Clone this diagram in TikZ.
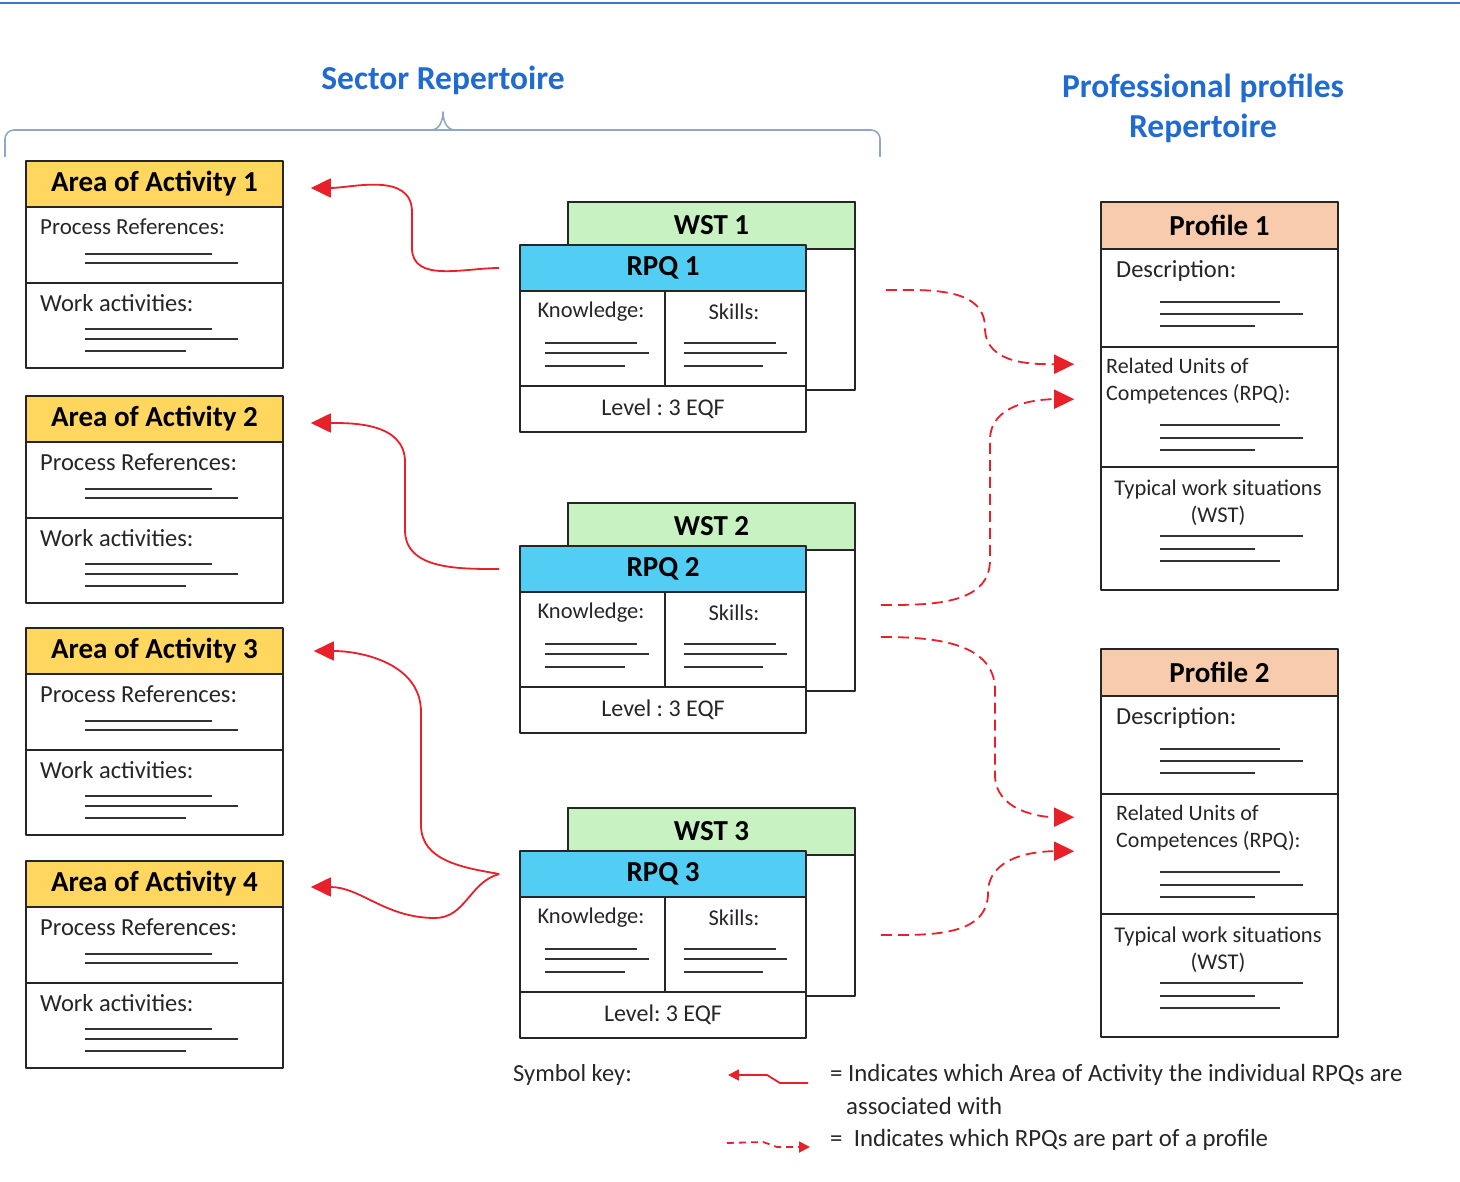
\documentclass[tikz,border=0pt]{standalone}
\usepackage{fontspec}
\setmainfont{Carlito}
\usepackage{tikz}
\usetikzlibrary{calc}
\usetikzlibrary{arrows.meta}

\definecolor{areayellow}{HTML}{FFD75F}
\definecolor{wstgreen}{HTML}{C9F2C2}
\definecolor{rpqblue}{HTML}{52CDF3}
\definecolor{profpeach}{HTML}{F8CBAD}
\definecolor{titleblue}{HTML}{1F6BD0}
\definecolor{bracegray}{HTML}{8FA8C8}
\definecolor{rulecol}{HTML}{4472C4}
\definecolor{linkred}{HTML}{E8202A}
\definecolor{textgray}{HTML}{262626}

\begin{document}
\frenchspacing
\begin{tikzpicture}[x=1pt, y=-1pt, line join=round,
        box/.style={draw=black!85, line width=1.6pt, inner sep=0pt},
        areahead/.style={box, fill=areayellow, minimum width=257pt, minimum height=46pt, font=\fontsize{29}{32}\selectfont\bfseries},
        areacell/.style={box, fill=white, minimum width=257pt},
        wstback/.style={box, fill=white, minimum width=287pt, minimum height=188pt},
        wsthead/.style={box, fill=wstgreen, minimum width=287pt, minimum height=47pt, font=\fontsize{29}{32}\selectfont\bfseries},
        rpqhead/.style={box, fill=rpqblue, minimum width=286pt, minimum height=46pt, font=\fontsize{29}{32}\selectfont\bfseries},
        rpqcell/.style={box, fill=white, minimum height=95pt},
        levelcell/.style={box, fill=white, minimum width=286pt, minimum height=46pt, font=\fontsize{24}{28}\selectfont, text=textgray},
        profhead/.style={box, fill=profpeach, minimum width=237pt, minimum height=47pt, font=\fontsize{29}{32}\selectfont\bfseries},
        profcell/.style={box, fill=white, minimum width=237pt},
        celltext/.style={anchor=west, inner sep=0pt, text=textgray, font=\fontsize{24.5}{28}\selectfont},
        smalltext/.style={inner sep=0pt, text=textgray, font=\fontsize{22.5}{27}\selectfont},
        title/.style={inner sep=0pt, text=titleblue, font=\fontsize{33.5}{40}\selectfont\bfseries},
        fillline/.style={line width=1.6pt, black!80},
        assoc/.style={linkred, line width=1.8pt, -{Triangle[length=20pt,width=19pt]}},
        partof/.style={assoc, dash pattern=on 11pt off 6pt}
    ]
        \useasboundingbox (0,0) rectangle (1460,1182);
        \draw[rulecol, line width=2pt] (0,3) -- (1460,3);

        % headings
        \node (sector) at (443,80) [title] {Sector Repertoire};
        \node (profiles) at (1203,108) [title, align=center] {Professional profiles\\Repertoire};
        \draw[bracegray, line width=1.6pt, rounded corners=9pt] (5,157) -- (5,130) -- (880,130) -- (880,157);
        \draw[bracegray, line width=1.6pt] (431,130) to[out=0,in=-90] (443,112) to[out=-90,in=180] (455,130);

        % areas of activity
        \node (aoa1p) at (154.5,245) [areacell, minimum height=76pt] {};
        \node (aoa1w) at (154.5,325.5) [areacell, minimum height=85pt] {};
        \node (aoa1) at (154.5,184) [areahead] {Area of Activity 1};
        \node (aoa1pt) at (40,227) [celltext, font=\fontsize{23}{28}\selectfont] {Process References:};
        \node (aoa1wt) at (40,303) [celltext] {Work activities:};
        \draw[fillline] (85,254) -- (212,254) (85,263) -- (238,263) (85,329) -- (212,329) (85,339) -- (238,339) (85,351) -- (186,351);

        \node (aoa2p) at (154.5,480) [areacell, minimum height=76pt] {};
        \node (aoa2w) at (154.5,560.5) [areacell, minimum height=85pt] {};
        \node (aoa2) at (154.5,419) [areahead] {Area of Activity 2};
        \node (aoa2pt) at (40,462) [celltext] {Process References:};
        \node (aoa2wt) at (40,538) [celltext] {Work activities:};
        \draw[fillline] (85,489) -- (212,489) (85,498) -- (238,498) (85,564) -- (212,564) (85,574) -- (238,574) (85,586) -- (186,586);

        \node (aoa3p) at (154.5,712) [areacell, minimum height=76pt] {};
        \node (aoa3w) at (154.5,792.5) [areacell, minimum height=85pt] {};
        \node (aoa3) at (154.5,651) [areahead] {Area of Activity 3};
        \node (aoa3pt) at (40,694) [celltext] {Process References:};
        \node (aoa3wt) at (40,770) [celltext] {Work activities:};
        \draw[fillline] (85,721) -- (212,721) (85,730) -- (238,730) (85,796) -- (212,796) (85,806) -- (238,806) (85,818) -- (186,818);

        \node (aoa4p) at (154.5,945) [areacell, minimum height=76pt] {};
        \node (aoa4w) at (154.5,1025.5) [areacell, minimum height=85pt] {};
        \node (aoa4) at (154.5,884) [areahead] {Area of Activity 4};
        \node (aoa4pt) at (40,927) [celltext] {Process References:};
        \node (aoa4wt) at (40,1003) [celltext] {Work activities:};
        \draw[fillline] (85,954) -- (212,954) (85,963) -- (238,963) (85,1029) -- (212,1029) (85,1039) -- (238,1039) (85,1051) -- (186,1051);

        % RPQ 1 with WST 1
        \node (wst1) at (711.5,296) [wstback] {};
        \node (wst1h) at (711.5,225.5) [wsthead] {WST 1};
        \node (rpq1k) at (592.5,338.5) [rpqcell, minimum width=145pt] {};
        \node (rpq1s) at (735.5,338.5) [rpqcell, minimum width=141pt] {};
        \node (rpq1l) at (663,409) [levelcell] {Level : 3 EQF};
        \node (rpq1) at (663,268) [rpqhead] {RPQ 1};
        \node (rpq1kt) at (591,312) [smalltext] {Knowledge:};
        \node (rpq1st) at (734,312) [smalltext] {Skills:};
        \draw[fillline] (545,343) -- (637,343) (545,353) -- (649,353) (545,366) -- (625,366) (684,343) -- (776,343) (684,353) -- (787,353) (684,366) -- (763,366);

        % RPQ 2 with WST 2
        \node (wst2) at (711.5,597) [wstback] {};
        \node (wst2h) at (711.5,526.5) [wsthead] {WST 2};
        \node (rpq2k) at (592.5,639.5) [rpqcell, minimum width=145pt] {};
        \node (rpq2s) at (735.5,639.5) [rpqcell, minimum width=141pt] {};
        \node (rpq2l) at (663,710) [levelcell] {Level : 3 EQF};
        \node (rpq2) at (663,569) [rpqhead] {RPQ 2};
        \node (rpq2kt) at (591,613) [smalltext] {Knowledge:};
        \node (rpq2st) at (734,613) [smalltext] {Skills:};
        \draw[fillline] (545,644) -- (637,644) (545,654) -- (649,654) (545,667) -- (625,667) (684,644) -- (776,644) (684,654) -- (787,654) (684,667) -- (763,667);

        % RPQ 3 with WST 3
        \node (wst3) at (711.5,902) [wstback] {};
        \node (wst3h) at (711.5,831.5) [wsthead] {WST 3};
        \node (rpq3k) at (592.5,944.5) [rpqcell, minimum width=145pt] {};
        \node (rpq3s) at (735.5,944.5) [rpqcell, minimum width=141pt] {};
        \node (rpq3l) at (663,1015) [levelcell] {Level: 3 EQF};
        \node (rpq3) at (663,874) [rpqhead] {RPQ 3};
        \node (rpq3kt) at (591,918) [smalltext] {Knowledge:};
        \node (rpq3st) at (734,918) [smalltext] {Skills:};
        \draw[fillline] (545,949) -- (637,949) (545,959) -- (649,959) (545,972) -- (625,972) (684,949) -- (776,949) (684,959) -- (787,959) (684,972) -- (763,972);

        % profiles
        \node (p1d) at (1219.5,298) [profcell, minimum height=98pt] {};
        \node (p1rel) at (1219.5,407) [profcell, minimum height=120pt] {};
        \node (p1typ) at (1219.5,528.5) [profcell, minimum height=123pt] {};
        \node (p1) at (1219.5,225.5) [profhead] {Profile 1};
        \node (p1dt) at (1116,271) [celltext] {Description:};
        \node (p1relt) at (1106,381.5) [celltext, font=\fontsize{22}{27}\selectfont, align=left] {Related Units of\\Competences (RPQ):};
        \node (p1typt) at (1218,502.5) [smalltext, align=center] {Typical work situations\\(WST)};
        \draw[fillline] (1160,302) -- (1280,302) (1160,314) -- (1303,314) (1160,326) -- (1255,326)
            (1160,425) -- (1280,425) (1160,438) -- (1303,438) (1160,450) -- (1255,450)
            (1160,536) -- (1303,536) (1160,549) -- (1255,549) (1160,561) -- (1280,561);

        \node (p2d) at (1219.5,745) [profcell, minimum height=98pt] {};
        \node (p2rel) at (1219.5,854) [profcell, minimum height=120pt] {};
        \node (p2typ) at (1219.5,975.5) [profcell, minimum height=123pt] {};
        \node (p2) at (1219.5,672.5) [profhead] {Profile 2};
        \node (p2dt) at (1116,718) [celltext] {Description:};
        \node (p2relt) at (1116,828.5) [celltext, font=\fontsize{22}{27}\selectfont, align=left] {Related Units of\\Competences (RPQ):};
        \node (p2typt) at (1218,949.5) [smalltext, align=center] {Typical work situations\\(WST)};
        \draw[fillline] (1160,749) -- (1280,749) (1160,761) -- (1303,761) (1160,773) -- (1255,773)
            (1160,872) -- (1280,872) (1160,885) -- (1303,885) (1160,897) -- (1255,897)
            (1160,983) -- (1303,983) (1160,996) -- (1255,996) (1160,1008) -- (1280,1008);

        % RPQ -> area of activity
        \draw[assoc] ([xshift=-20pt]rpq1.west) to[out=180,in=-90] (412,248) -- (412,212) to[out=90,in=0] ([xshift=27pt,yshift=-4pt]aoa1.east);
        \draw[assoc] ([xshift=-20pt]rpq2.west) to[out=180,in=-90] (405,530) -- (405,462) to[out=90,in=0] ([xshift=27pt,yshift=-4pt]aoa2.east);
        \draw[assoc] ([xshift=-20pt]rpq3.west) to[out=170,in=-90] (421,825) -- (421,712) to[out=90,in=0] ([xshift=30pt]aoa3.east);
        \draw[assoc] ([xshift=-20pt]rpq3.west) to[out=195,in=0] (435,918) to[out=180,in=0] ([xshift=27pt,yshift=-3pt]aoa4.east);

        % RPQ -> profile
        \draw[partof] ($(wst1.east)+(30,-6)$) to[out=0,in=90] (985,328) to[out=-90,in=180] ($(p1rel.north west)+(-26,18)$);
        \draw[partof] ($(wst2.east)+(25,8)$) to[out=0,in=-90] (990,560) -- (990,440) to[out=90,in=180] ($(p1rel.north west)+(-26,53)$);
        \draw[partof] ($(wst2.east)+(25,40)$) to[out=0,in=90] (995,690) -- (995,775) to[out=-90,in=180] ($(p2rel.north west)+(-26,24)$);
        \draw[partof] ($(wst3.east)+(25,33)$) to[out=0,in=-90] (988,893) to[out=90,in=180] ($(p2rel.north west)+(-26,58)$);

        % symbol key
        \node (keytitle) at (513,1075) [celltext] {Symbol key:};
        \coordinate (key1s) at (808,1083);
        \coordinate (key1e) at (728,1075);
        \coordinate (key2s) at (727,1143);
        \coordinate (key2e) at (810,1147);
        \draw[assoc, line width=1.8pt, -{Triangle[length=11pt,width=11pt]}] (key1s) -- (780,1083) -- (767,1075) -- (key1e);
        \draw[partof, line width=1.8pt, dash pattern=on 7pt off 5pt, -{Triangle[length=11pt,width=11pt]}] (key2s) -- (763,1142) -- (777,1147) -- (key2e);
        \node (key1t) at (830,1075) [celltext, font=\fontsize{24.8}{28}\selectfont] {= Indicates which Area of Activity the individual RPQs are};
        \node (key1u) at (846,1106) [celltext, font=\fontsize{24.8}{28}\selectfont] {associated with};
        \node (key2t) at (830,1140) [celltext, font=\fontsize{24.8}{28}\selectfont] {=\ \ Indicates which RPQs are part of a profile};
    \end{tikzpicture}
\end{document}
